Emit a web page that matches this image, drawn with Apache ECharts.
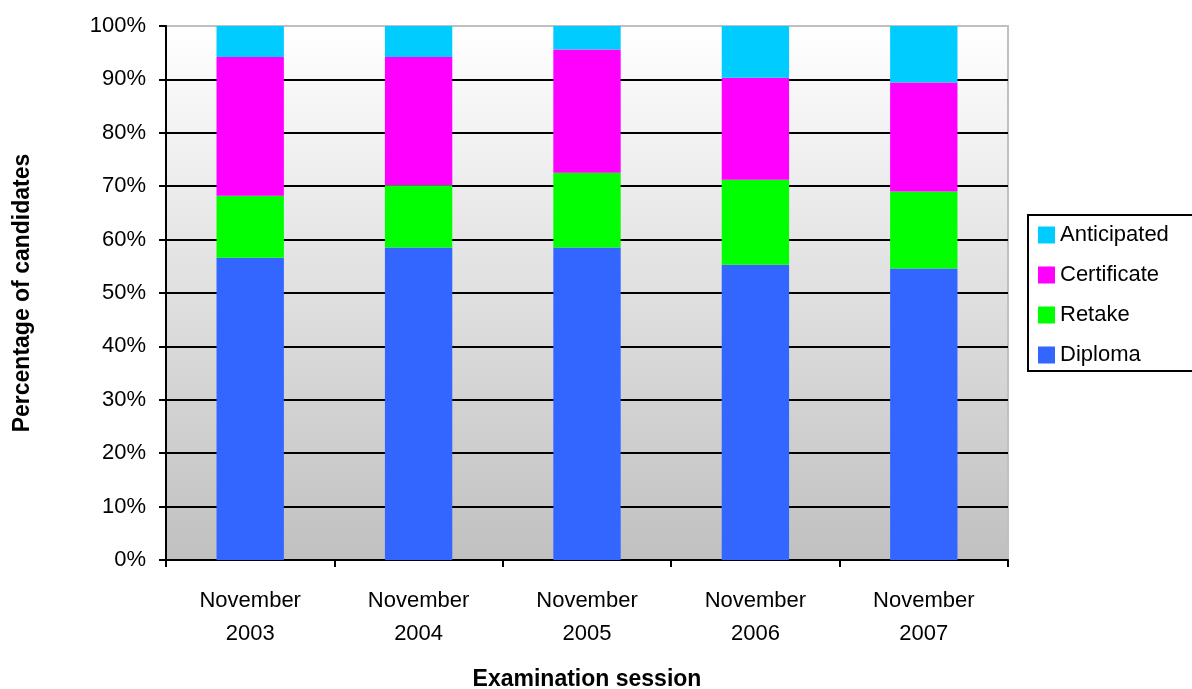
<!DOCTYPE html>
<html><head><meta charset="utf-8">
<script src="https://cdn.jsdelivr.net/npm/echarts@6/dist/echarts.min.js"></script>
<style>html,body{margin:0;padding:0;background:#fff}#c{width:1192px;height:689px}</style>
</head><body><div id="c"></div>
<script>
const categories = ['November\n2003','November\n2004','November\n2005','November\n2006','November\n2007'];
const diploma     = [56.6, 58.5, 58.5, 55.3, 54.6];
const retake      = [11.6, 11.7, 14.0, 15.9, 14.4];
const certificate = [26.0, 24.0, 23.1, 19.1, 20.4];
const anticipated = [5.8, 5.8, 4.4, 9.7, 10.6];
const yTicks = [0,10,20,30,40,50,60,70,80,90,100];

const font = 'Liberation Sans, Arial, sans-serif';
const chart = echarts.init(document.getElementById('c'));
const gridColors = yTicks.map(v => v === 100 ? '#c0c0c0' : '#000');
function ser(name, data, color){
  return {name, type:'bar', stack:'t', data, barWidth:'40%', itemStyle:{color}, emphasis:{disabled:true}};
}
chart.setOption({
  animation:false,
  textStyle:{fontFamily:font},
  grid:{left:166,right:184,top:26,bottom:129,outerBoundsMode:'none',containLabel:false,show:true,borderColor:'#c0c0c0',borderWidth:2,
    backgroundColor:new echarts.graphic.LinearGradient(0,0,0,1,[{offset:0,color:'#ffffff'},{offset:1,color:'#c0c0c0'}])},
  legend:{orient:'vertical',left:1028,top:215,itemWidth:17,itemHeight:17,itemGap:18,
    borderColor:'#000',borderWidth:2,padding:[9,25,5,10],icon:'rect',
    textStyle:{fontSize:22,color:'#000',fontFamily:font},
    data:['Anticipated','Certificate','Retake','Diploma']},
  xAxis:{type:'category',data:categories,
    axisLine:{lineStyle:{color:'#000',width:2}},
    axisTick:{show:true,length:7,lineStyle:{color:'#000',width:2}},
    axisLabel:{color:'#000',fontSize:22,lineHeight:33,margin:24,fontFamily:font},
    name:'Examination session',nameLocation:'middle',nameGap:108,
    nameTextStyle:{fontSize:23,fontWeight:'bold',color:'#000',fontFamily:font}},
  yAxis:{type:'value',min:0,max:100,interval:10,
    axisLine:{show:true,lineStyle:{color:'#000',width:2}},
    axisTick:{show:true,length:7,lineStyle:{color:'#000',width:2}},
    axisLabel:{color:'#000',fontSize:22,margin:20,formatter:v=>v+'%',fontFamily:font},
    splitLine:{show:true,lineStyle:{color:gridColors,width:2}},
    name:'Percentage of candidates',nameLocation:'middle',nameGap:132,nameRotate:90,
    nameTextStyle:{fontSize:23,fontWeight:'bold',color:'#000',fontFamily:font}},
  series:[
    ser('Diploma',diploma,'#3366ff'),
    ser('Retake',retake,'#00ff00'),
    ser('Certificate',certificate,'#ff00ff'),
    ser('Anticipated',anticipated,'#00ccff')
  ]
});
</script></body></html>
